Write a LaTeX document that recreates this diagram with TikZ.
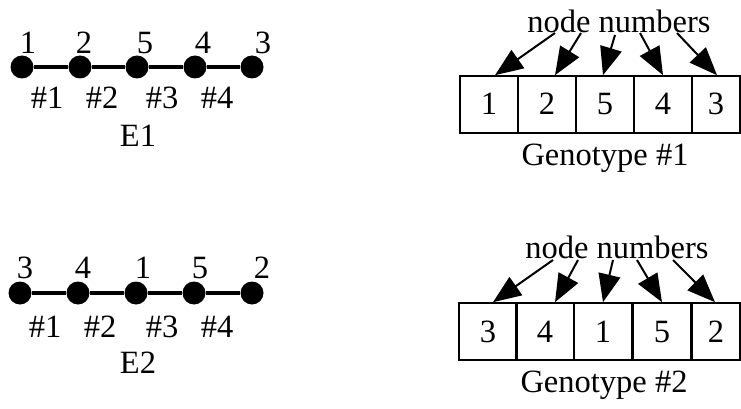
\documentclass[tikz,border=0pt]{standalone}
\usepackage{fontspec}
\setmainfont{Liberation Serif}
\usetikzlibrary{arrows.meta,calc}
\begin{document}
\begin{tikzpicture}[x=1pt,y=-1pt,
  every node/.style={font=\fontsize{32.5}{39}\selectfont, inner sep=0pt},
  vertex/.style={circle,fill=black,minimum size=23pt},
  edge/.style={line width=3.5pt},
  cell/.style={draw,line width=1.6pt,minimum height=57pt,text height=21pt,text depth=0pt},
  pointer/.style={line width=2pt,-{Triangle[length=28pt,width=22pt]}}]
\useasboundingbox (0,0) rectangle (741,409);

% ---------- encoding E1 ----------
\foreach \i/\x in {1/22,2/80,3/137,4/195,5/252}
  \node[vertex] (a\i) at (\x,67) {};
\draw[edge] (a1) -- (a2) -- (a3) -- (a4) -- (a5);
\node (an1) at (28,43) {1};
\node (an2) at (84,43) {2};
\node (an3) at (145,43) {5};
\node (an4) at (203,43) {4};
\node (an5) at (263,43) {3};
\node (ae1) at (47,98) {\#1};
\node (ae2) at (102,98) {\#2};
\node (ae3) at (162,98) {\#3};
\node (ae4) at (217,98) {\#4};
\node (aname) at (138,136) {E1};

% genotype #1
\node[cell,minimum width=58pt] (c1) at (489,104.5) {1};
\node[cell,minimum width=58pt] (c2) at (547,104.5) {2};
\node[cell,minimum width=58pt] (c3) at (605,104.5) {5};
\node[cell,minimum width=58pt] (c4) at (663,104.5) {4};
\node[cell,minimum width=48pt] (c5) at (716,104.5) {3};
\node (ctitle) at (619,21) {node numbers};
\node (cname) at (605,158) {Genotype \#1};
\coordinate (cp1) at (555,33);
\coordinate (cp2) at (581,33);
\coordinate (cp3) at (615,35);
\coordinate (cp4) at (640,33);
\coordinate (cp5) at (677,33);
\draw[pointer] (cp1) -- ([xshift=6pt]c1.north);
\draw[pointer] (cp2) -- ([xshift=8pt]c2.north);
\draw[pointer] (cp3) -- ([xshift=-2pt]c3.north);
\draw[pointer] (cp4) -- (c4.north);
\draw[pointer] (cp5) -- ([xshift=1pt]c5.north);

% ---------- encoding E2 ----------
\foreach \i/\x in {1/20,2/78,3/136,4/194,5/252}
  \node[vertex] (b\i) at (\x,293) {};
\draw[edge] (b1) -- (b2) -- (b3) -- (b4) -- (b5);
\node (bn1) at (25,268) {3};
\node (bn2) at (83,268) {4};
\node (bn3) at (143,268) {1};
\node (bn4) at (200,268) {5};
\node (bn5) at (262,268) {2};
\node (be1) at (45,327) {\#1};
\node (be2) at (100,327) {\#2};
\node (be3) at (162,327) {\#3};
\node (be4) at (217,327) {\#4};
\node (bname) at (138,363) {E2};

% genotype #2
\node[cell,minimum width=58pt] (d1) at (488,331.5) {3};
\node[cell,minimum width=58pt] (d2) at (545,331.5) {4};
\node[cell,minimum width=58pt] (d3) at (603,331.5) {1};
\node[cell,minimum width=58pt] (d4) at (662,331.5) {5};
\node[cell,minimum width=48pt] (d5) at (716,331.5) {2};
\node (dtitle) at (617,247) {node numbers};
\node (dname) at (604,385) {Genotype \#2};
\coordinate (dp1) at (553,260);
\coordinate (dp2) at (578,260);
\coordinate (dp3) at (613,260);
\coordinate (dp4) at (637,260);
\coordinate (dp5) at (673,260);
\draw[pointer] (dp1) -- ([xshift=5pt]d1.north);
\draw[pointer] (dp2) -- ([xshift=10pt]d2.north);
\draw[pointer] (dp3) -- (d3.north);
\draw[pointer] (dp4) -- (d4.north);
\draw[pointer] (dp5) -- ([xshift=-1pt]d5.north);
\end{tikzpicture}
\end{document}
